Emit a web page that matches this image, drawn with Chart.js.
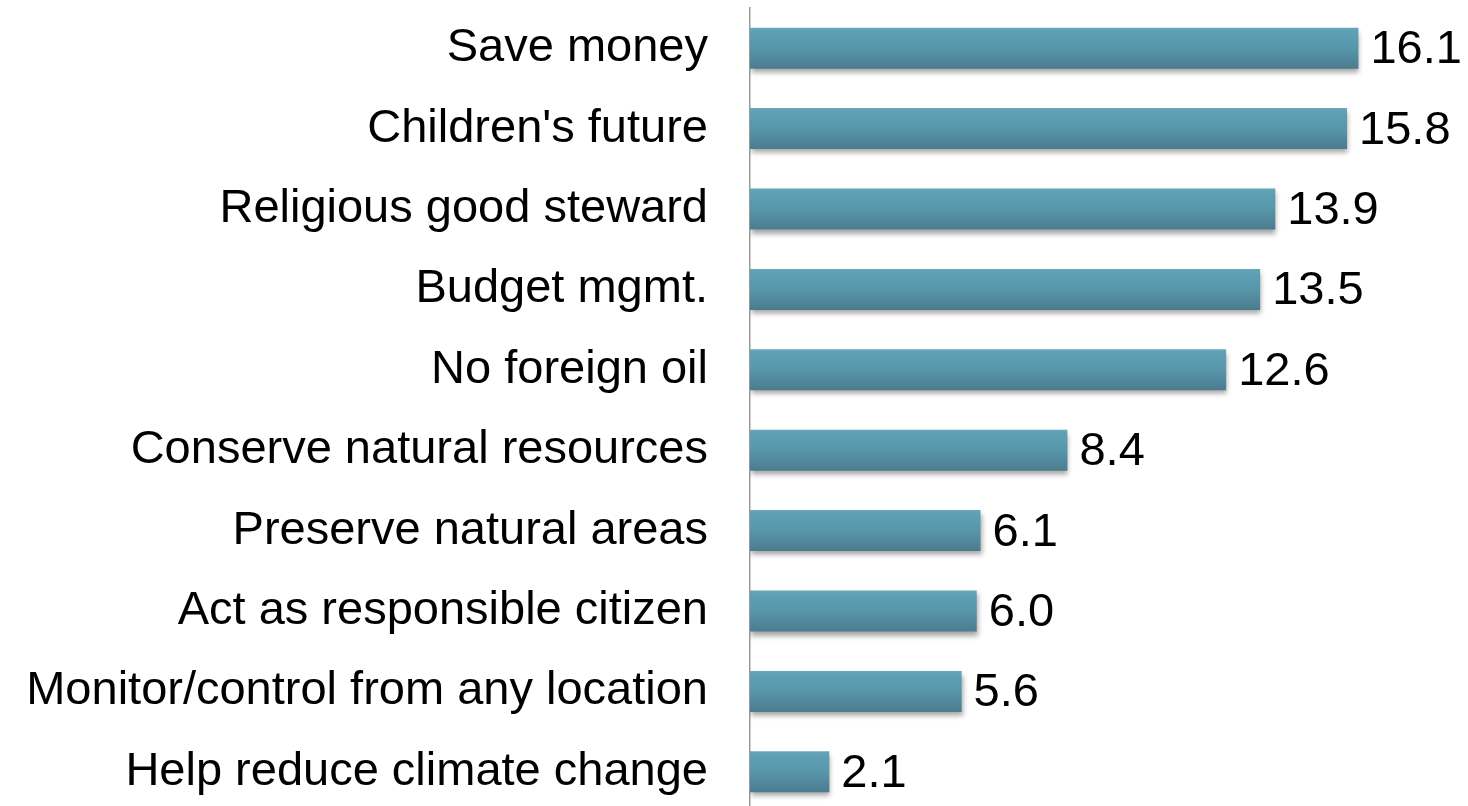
<!DOCTYPE html>
<html>
<head>
<meta charset="utf-8">
<script src="https://cdn.jsdelivr.net/npm/chart.js@4.4.1/dist/chart.umd.min.js"></script>
<style>
    html, body { margin: 0; padding: 0; background: #fff; overflow: hidden; }
    #wrap { position: relative; width: 1468px; height: 812px; }
</style>
</head>
<body>
<div id="wrap"><canvas id="reasonsChart"></canvas></div>
<script>
    // --- DATA ---
    const reasons = [
        'Save money',
        "Children's future",
        'Religious good steward',
        'Budget mgmt.',
        'No foreign oil',
        'Conserve natural resources',
        'Preserve natural areas',
        'Act as responsible citizen',
        'Monitor/control from any location',
        'Help reduce climate change'
    ];
    const percentages = [16.1, 15.8, 13.9, 13.5, 12.6, 8.4, 6.1, 6.0, 5.6, 2.1];

    const FONT = '"Liberation Sans", Arial, sans-serif';

    // Vertical gradient for each bar, built around its own band
    function barFill(ctx) {
        const chart = ctx.chart;
        const y = chart.scales.y;
        if (!chart.chartArea || !y) return '#5b9bb0';
        const mid = y.getPixelForValue(ctx.dataIndex);
        const g = chart.ctx.createLinearGradient(0, mid - 21, 0, mid + 21);
        g.addColorStop(0, '#6aa9bc');
        g.addColorStop(0.08, '#5fa1b6');
        g.addColorStop(0.5, '#5896aa');
        g.addColorStop(1, '#4a7b8d');
        return g;
    }

    // Soft drop shadow under the bars
    const barShadow = {
        id: 'barShadow',
        beforeDatasetsDraw(chart) {
            const c = chart.ctx;
            c.save();
            c.shadowColor = 'rgba(0, 0, 0, 0.35)';
            c.shadowBlur = 5;
            c.shadowOffsetX = 1;
            c.shadowOffsetY = 4;
        },
        afterDatasetsDraw(chart) {
            chart.ctx.restore();
        }
    };

    // Value text to the right of each bar
    const valueLabels = {
        id: 'valueLabels',
        afterDatasetsDraw(chart) {
            const c = chart.ctx;
            const meta = chart.getDatasetMeta(0);
            c.save();
            c.font = '47px ' + FONT;
            c.fillStyle = '#000';
            c.textAlign = 'left';
            c.textBaseline = 'middle';
            meta.data.forEach((bar, i) => {
                c.fillText(percentages[i].toFixed(1), bar.x + 12, bar.y + 2);
            });
            c.restore();
        }
    };

    new Chart(document.getElementById('reasonsChart'), {
        type: 'bar',
        data: {
            labels: reasons,
            datasets: [{
                data: percentages,
                backgroundColor: barFill,
                borderWidth: 0,
                barPercentage: 0.51,
                categoryPercentage: 1
            }]
        },
        options: {
            indexAxis: 'y',
            responsive: true,
            maintainAspectRatio: false,
            animation: false,
            layout: { padding: { top: 8, right: 0, bottom: 0, left: 0 } },
            plugins: {
                legend: { display: false },
                tooltip: { enabled: false }
            },
            scales: {
                x: { min: 0, max: 19, display: false },
                y: {
                    // fixed label column, no extra room for first/last label
                    afterFit(scale) {
                        scale.width = 750;
                        scale.paddingTop = 0;
                        scale.paddingBottom = 0;
                    },
                    grid: { display: false, drawTicks: false },
                    border: { display: true, color: '#9a9a9a', width: 1.5 },
                    ticks: {
                        color: '#000',
                        padding: 42,
                        font: { family: FONT, size: 47 }
                    }
                }
            }
        },
        plugins: [barShadow, valueLabels]
    });
</script>
</body>
</html>
